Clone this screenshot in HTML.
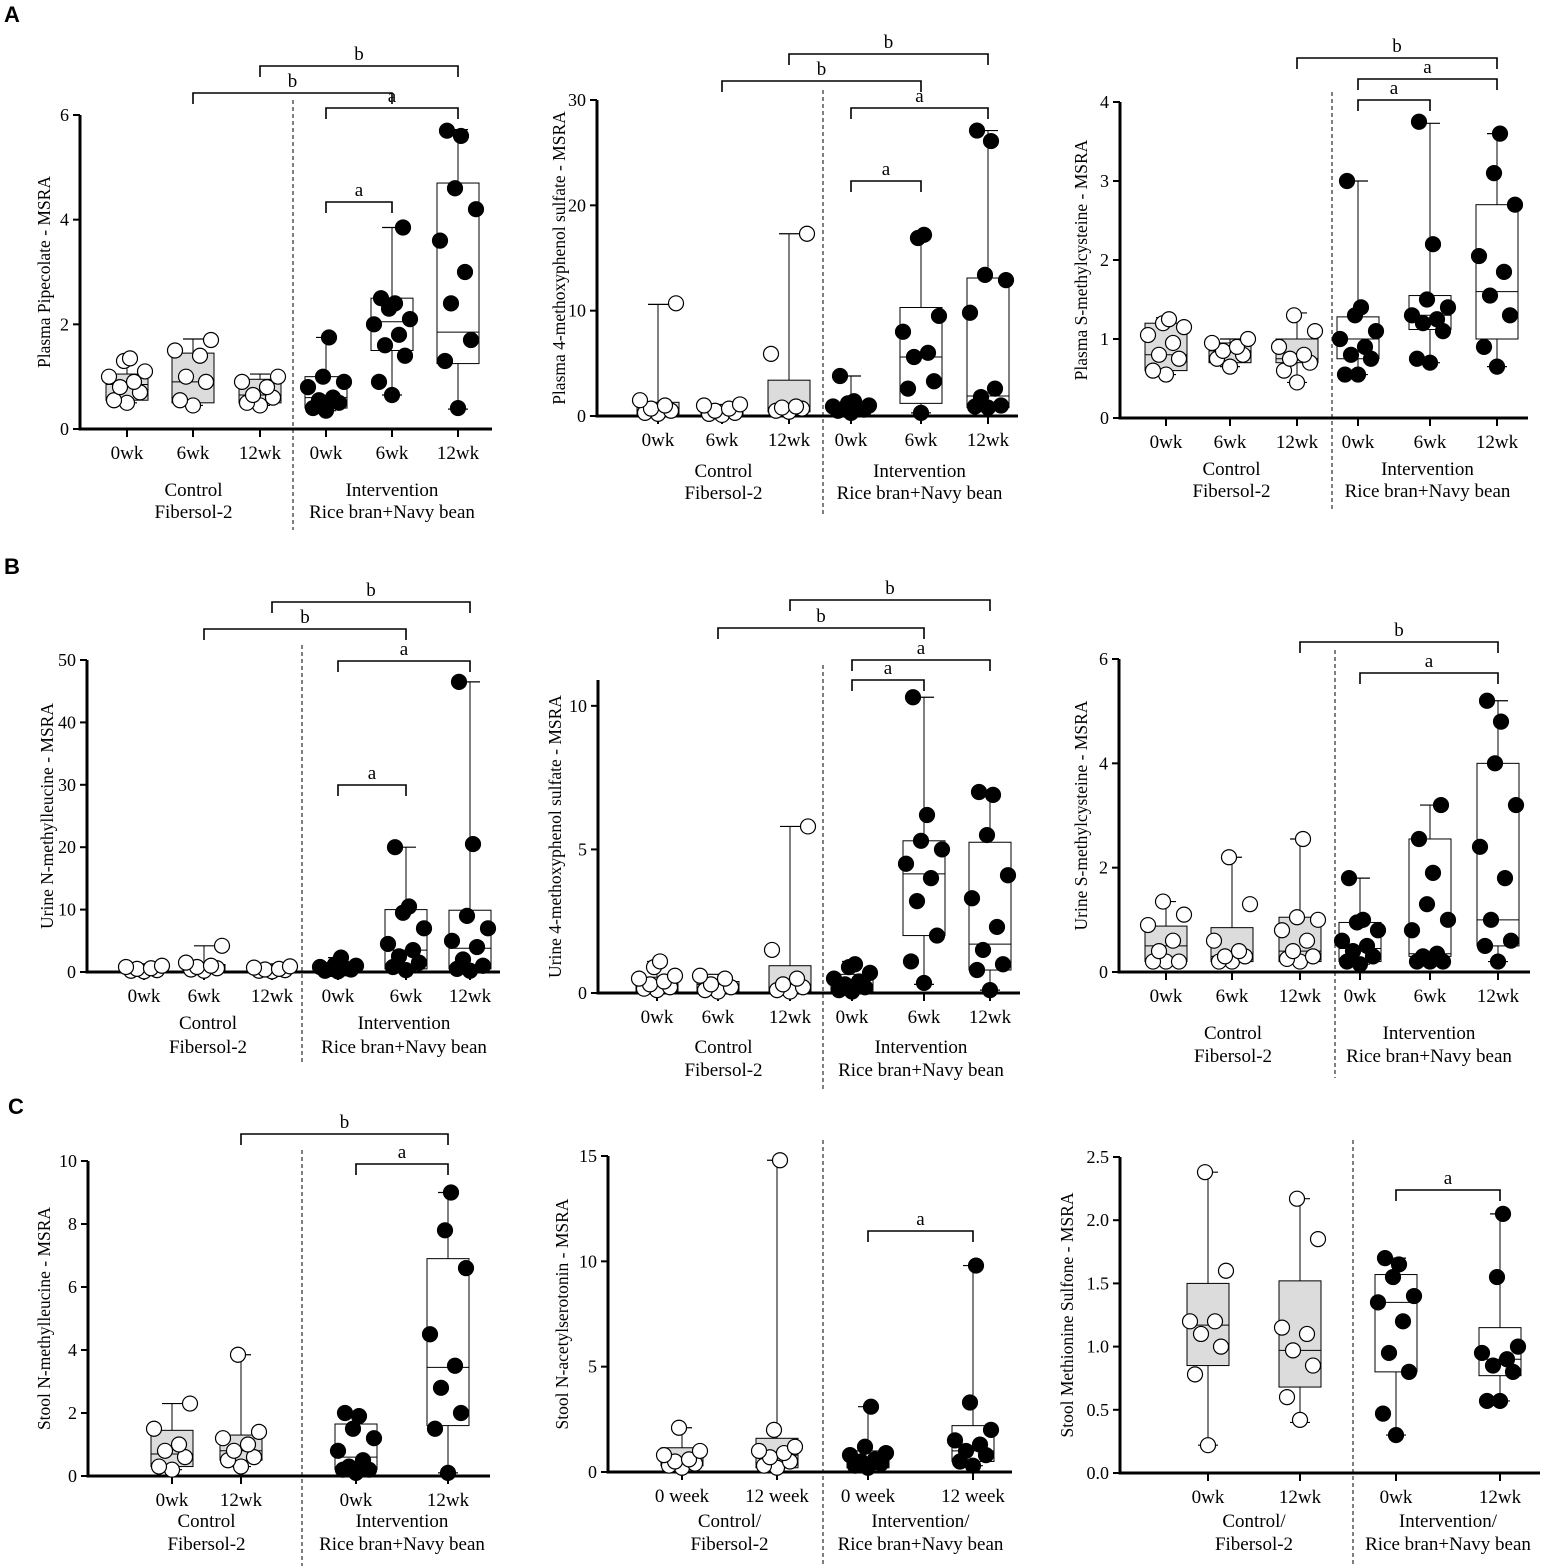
<!DOCTYPE html>
<html><head><meta charset="utf-8">
<style>
html,body{margin:0;padding:0;background:#fff;}
svg{display:block;font-family:"Liberation Serif",serif;}
</style></head>
<body>
<svg id="fig" width="1563" height="1566" viewBox="0 0 1563 1566" xmlns="http://www.w3.org/2000/svg">
<text x="4" y="22" font-family="Liberation Sans,sans-serif" font-weight="bold" font-size="22">A</text>
<text x="4" y="574" font-family="Liberation Sans,sans-serif" font-weight="bold" font-size="22">B</text>
<text x="8" y="1114" font-family="Liberation Sans,sans-serif" font-weight="bold" font-size="22">C</text>
</svg>
<script>
const a1Points=[[0.5,0.55,0.7,0.8,0.9,1.0,1.1,1.3,1.35],[0.45,0.55,0.9,1.0,1.4,1.5,1.7],[0.45,0.5,0.6,0.65,0.8,0.9,1.0],[0.35,0.4,0.5,0.55,0.6,0.8,0.9,1.0,1.75],[0.65,0.9,1.4,1.6,1.8,2.0,2.1,2.3,2.4,2.5,3.85],[0.4,1.3,1.7,2.4,3.0,3.6,4.2,4.6,5.6,5.7]];
const a1Boxes=[[0.5,0.55,0.85,1.05,1.35],[0.45,0.5,0.9,1.45,1.72],[0.45,0.5,0.65,0.95,1.05],[0.35,0.4,0.6,1.0,1.75],[0.65,1.5,2.05,2.5,3.85],[0.38,1.25,1.85,4.7,5.72]];
const a2Points=[[0.2,0.3,0.5,0.7,1.0,1.5,10.7],[0.1,0.2,0.3,0.5,0.7,1.0,1.1],[0.4,0.5,0.7,0.8,0.9,5.9,17.3],[0.3,0.5,0.6,0.7,0.8,0.9,1.0,1.2,1.4,3.8],[0.3,2.6,3.3,5.6,6.0,8.0,9.5,16.9,17.2],[0.8,0.9,1.0,1.8,2.6,9.8,12.9,13.4,26.1,27.1]];
const a2Boxes=[[0.2,0.2,0.4,1.3,10.6],[0.1,0.1,0.3,0.7,1.1],[0.4,0.4,0.8,3.4,17.3],[0.3,0.5,0.9,1.3,3.8],[0.3,1.2,5.6,10.3,17.2],[0.8,0.8,1.9,13.1,27.1]];
const a3Points=[[0.55,0.6,0.75,0.8,0.95,1.05,1.15,1.2,1.25],[0.65,0.75,0.8,0.85,0.9,0.95,1.0],[0.45,0.6,0.7,0.75,0.8,0.9,1.1,1.3],[0.55,0.55,0.75,0.8,0.9,1.0,1.1,1.3,1.4,3.0],[0.7,0.75,1.1,1.2,1.25,1.3,1.4,1.5,2.2,3.75],[0.65,0.9,1.3,1.55,1.85,2.05,2.7,3.1,3.6]];
const a3Boxes=[[0.55,0.6,0.8,1.2,1.27],[0.65,0.7,0.85,0.95,1.0],[0.45,0.7,0.75,1.0,1.33],[0.55,0.75,1.0,1.28,3.0],[0.7,1.12,1.3,1.55,3.73],[0.65,1.0,1.6,2.7,3.6]];
const b1Points=[[0.1,0.2,0.3,0.5,0.6,0.8,1.0],[0.2,0.4,0.6,0.8,1.0,1.5,4.2],[0.1,0.2,0.3,0.4,0.5,0.7,0.9],[0.1,0.2,0.4,0.5,0.6,0.8,1.0,1.2,2.3],[0.3,0.8,1.5,2.5,3.5,4.5,7,9.5,10.5,20],[0.2,0.5,1,2,4,5,7,9,20.5,46.5]];
const b1Boxes=[[0.1,0.1,0.3,0.6,1.0],[0.2,0.2,0.6,1.2,4.2],[0.1,0.1,0.3,0.7,0.9],[0.1,0.2,0.6,1.0,2.3],[0.3,0.5,3.5,10,20],[0.2,0.5,3.8,9.9,46.5]];
const b2Points=[[0.1,0.15,0.2,0.3,0.4,0.5,0.6,0.9,1.1],[0.05,0.1,0.2,0.3,0.5,0.6],[0.05,0.1,0.2,0.3,0.5,1.5,5.8],[0.05,0.1,0.2,0.3,0.4,0.5,0.7,0.9,1.0],[0.35,1.1,2.0,3.2,4.0,4.5,5.0,5.3,6.2,10.3],[0.1,0.8,1.0,1.5,2.3,3.3,4.1,5.5,6.9,7.0]];
const b2Boxes=[[0.05,0.05,0.3,0.55,1.1],[0.05,0.05,0.3,0.4,0.65],[0.05,0.05,0.2,0.95,5.8],[0.05,0.05,0.3,0.65,1.1],[0.3,2.0,4.15,5.3,10.3],[0.1,0.8,1.7,5.25,7.0]];
const b3Points=[[0.2,0.2,0.2,0.4,0.6,0.9,1.1,1.35],[0.2,0.2,0.3,0.3,0.4,0.6,1.3,2.2],[0.2,0.25,0.3,0.4,0.6,0.8,1.0,1.05,2.55],[0.15,0.2,0.3,0.4,0.5,0.6,0.8,0.95,1.0,1.8],[0.2,0.2,0.2,0.3,0.35,0.8,1.0,1.3,1.9,2.55,3.2],[0.2,0.5,0.6,1.0,1.8,2.4,3.2,4.0,4.8,5.2]];
const b3Boxes=[[0.2,0.2,0.5,0.88,1.35],[0.2,0.2,0.3,0.85,2.2],[0.2,0.2,0.4,1.05,2.55],[0.15,0.2,0.45,0.95,1.8],[0.2,0.3,0.35,2.55,3.2],[0.2,0.5,1.0,4.0,5.2]];
const c1Points=[[0.2,0.3,0.6,0.8,1.0,1.5,2.3],[0.3,0.5,0.6,0.8,1.0,1.2,1.4,3.85],[0.1,0.2,0.2,0.3,0.5,0.8,1.2,1.5,1.9,2.0],[0.1,1.5,2.0,2.8,3.5,4.5,6.6,7.8,9.0]];
const c1Boxes=[[0.2,0.3,0.7,1.45,2.3],[0.3,0.5,0.8,1.3,3.85],[0.1,0.2,0.6,1.65,2.0],[0.1,1.6,3.45,6.9,9.0]];
const c2Points=[[0.2,0.3,0.4,0.5,0.6,0.8,1.0,2.1],[0.2,0.3,0.5,0.7,0.9,1.0,1.2,2.0,14.8],[0.2,0.3,0.4,0.5,0.6,0.8,0.9,1.2,3.1],[0.3,0.5,0.8,1.0,1.3,1.5,2.0,3.3,9.8]];
const c2Boxes=[[0.2,0.3,0.7,1.15,2.1],[0.2,0.2,0.8,1.6,14.8],[0.2,0.2,0.5,1.0,3.1],[0.3,0.5,1.0,2.2,9.8]];
const c3Points=[[0.22,0.78,1.0,1.1,1.2,1.2,1.6,2.38],[0.42,0.6,0.85,0.97,1.1,1.15,1.85,2.17],[0.3,0.47,0.8,0.95,1.2,1.35,1.4,1.55,1.65,1.7],[0.57,0.57,0.8,0.85,0.9,0.95,1.0,1.55,2.05]];
const c3Boxes=[[0.22,0.85,1.17,1.5,2.38],[0.4,0.68,0.97,1.52,2.17],[0.3,0.8,1.35,1.57,1.7],[0.57,0.77,0.9,1.15,2.05]];
const a1Ticks=[0,2,4,6], a2Ticks=[0,10,20,30], a3Ticks=[0,1,2,3,4];
const b1Ticks=[0,10,20,30,40,50], b2Ticks=[0,5,10], b3Ticks=[0,2,4,6];
const c1Ticks=[0,2,4,6,8,10], c2Ticks=[0,5,10,15], c3Ticks=["0.0","0.5","1.0","1.5","2.0","2.5"];
const wk3=["0wk","6wk","12wk","0wk","6wk","12wk"], wk2=["0wk","12wk","0wk","12wk"], week2=["0 week","12 week","0 week","12 week"];

const NS="http://www.w3.org/2000/svg", svg=document.getElementById('fig');
function mk(tag,attrs,parent,txt){const e=document.createElementNS(NS,tag);for(const k in attrs)e.setAttribute(k,attrs[k]);if(txt!==undefined)e.textContent=txt;(parent||svg).appendChild(e);return e;}

const panels=[
 {id:'a1',ax:80,y0:429,yTop:115,ymax:6,ticks:a1Ticks,pts:a1Points,box:a1Boxes,cats:wk3,gx:[127,193,260,326,392,458],dash:293,xEnd:492,nCtrl:3,
  ylab:'Plasma Pipecolate - MSRA',ylx:45,g1:['Control','Fibersol-2'],g2:['Intervention','Rice bran+Navy bean'],gy:[489,511],dashTop:100,dashBot:530,
  br:[[2,5,66,'b'],[1,4,93,'b'],[3,5,108,'a'],[3,4,202,'a']]},
 {id:'a2',ax:597,y0:416,yTop:100,ymax:30,ticks:a2Ticks,pts:a2Points,box:a2Boxes,cats:wk3,gx:[658,722,789,851,921,988],dash:823,xEnd:1018,nCtrl:3,
  ylab:'Plasma 4-methoxyphenol sulfate - MSRA',ylx:560,g1:['Control','Fibersol-2'],g2:['Intervention','Rice bran+Navy bean'],gy:[470,492],dashTop:90,dashBot:515,
  br:[[2,5,54,'b'],[1,4,81,'b'],[3,5,108,'a'],[3,4,181,'a']]},
 {id:'a3',ax:1120,y0:418,yTop:102,ymax:4,ticks:a3Ticks,pts:a3Points,box:a3Boxes,cats:wk3,gx:[1166,1230,1297,1358,1430,1497],dash:1332,xEnd:1528,nCtrl:3,
  ylab:'Plasma S-methylcysteine - MSRA',ylx:1082,g1:['Control','Fibersol-2'],g2:['Intervention','Rice bran+Navy bean'],gy:[468,490],dashTop:92,dashBot:512,
  br:[[2,5,58,'b'],[3,5,79,'a'],[3,4,100,'a']]},
 {id:'b1',ax:87,y0:972,yTop:660,ymax:50,ticks:b1Ticks,pts:b1Points,box:b1Boxes,cats:wk3,gx:[144,204,272,338,406,470],dash:302,xEnd:500,nCtrl:3,
  ylab:'Urine N-methylleucine - MSRA',ylx:48,g1:['Control','Fibersol-2'],g2:['Intervention','Rice bran+Navy bean'],gy:[1022,1046],dashTop:645,dashBot:1065,
  br:[[2,5,602,'b'],[1,4,629,'b'],[3,5,661,'a'],[3,4,785,'a']]},
 {id:'b2',ax:598,y0:993,yTop:680,ymax:10.9,ticks:b2Ticks,pts:b2Points,box:b2Boxes,cats:wk3,gx:[657,718,790,852,924,990],dash:823,xEnd:1020,nCtrl:3,
  ylab:'Urine 4-methoxyphenol sulfate - MSRA',ylx:556,g1:['Control','Fibersol-2'],g2:['Intervention','Rice bran+Navy bean'],gy:[1046,1069],dashTop:665,dashBot:1090,
  br:[[2,5,600,'b'],[1,4,628,'b'],[3,5,660,'a'],[3,4,680,'a']]},
 {id:'b3',ax:1119,y0:972,yTop:659,ymax:6,ticks:b3Ticks,pts:b3Points,box:b3Boxes,cats:wk3,gx:[1166,1232,1300,1360,1430,1498],dash:1335,xEnd:1530,nCtrl:3,
  ylab:'Urine S-methylcysteine - MSRA',ylx:1082,g1:['Control','Fibersol-2'],g2:['Intervention','Rice bran+Navy bean'],gy:[1032,1055],dashTop:650,dashBot:1078,
  br:[[2,5,642,'b'],[3,5,673,'a']]},
 {id:'c1',ax:88,y0:1476,yTop:1161,ymax:10,ticks:c1Ticks,pts:c1Points,box:c1Boxes,cats:wk2,gx:[172,241,356,448],dash:302,xEnd:490,nCtrl:2,
  ylab:'Stool N-methylleucine - MSRA',ylx:45,g1:['Control','Fibersol-2'],g2:['Intervention','Rice bran+Navy bean'],gy:[1520,1543],dashTop:1150,dashBot:1566,
  br:[[1,3,1134,'b'],[2,3,1164,'a']]},
 {id:'c2',ax:608,y0:1472,yTop:1156,ymax:15,ticks:c2Ticks,pts:c2Points,box:c2Boxes,cats:week2,gx:[682,777,868,973],dash:823,xEnd:1012,nCtrl:2,
  ylab:'Stool N-acetylserotonin - MSRA',ylx:563,g1:['Control/','Fibersol-2'],g2:['Intervention/','Rice bran+Navy bean'],gy:[1520,1543],dashTop:1140,dashBot:1566,
  br:[[2,3,1231,'a']]},
 {id:'c3',ax:1120,y0:1473,yTop:1157,ymax:2.5,ticks:c3Ticks,pts:c3Points,box:c3Boxes,cats:wk2,gx:[1208,1300,1396,1500],dash:1353,xEnd:1540,nCtrl:2,
  ylab:'Stool Methionine Sulfone - MSRA',ylx:1068,g1:['Control/','Fibersol-2'],g2:['Intervention/','Rice bran+Navy bean'],gy:[1520,1543],dashTop:1140,dashBot:1566,
  br:[[2,3,1190,'a']]}
];

const offs=[0,-13,13,-7,7,-18,18,-3,3,-11,11];
panels.forEach(p=>{
  const g=mk('g',{});
  
  
  const Y=v=>p.y0-(parseFloat(v)/p.ymax)*(p.y0-p.yTop);
  const d=mk('line',{x1:p.dash,x2:p.dash,y1:p.dashTop,y2:p.dashBot,stroke:'#000','stroke-width':1,'stroke-dasharray':'4,3'},g);
  
  
  const ya=mk('line',{x1:p.ax,x2:p.ax,y1:p.yTop,y2:p.y0+1.5,stroke:'#000','stroke-width':3},g);
  
  
  p.ticks.forEach(t=>{
    const yy=Y(t);
    mk('line',{x1:p.ax-7,x2:p.ax,y1:yy,y2:yy,stroke:'#000','stroke-width':2},g);
    const tl=mk('text',{x:p.ax-11,y:yy+6,'text-anchor':'end','font-size':18},g,String(t));
    
    
  });
  const yl=mk('text',{x:p.ylx,y:(p.y0+p.yTop)/2,'text-anchor':'middle','font-size':17.5,transform:`rotate(-90 ${p.ylx} ${(p.y0+p.yTop)/2})`,dy:5},g,p.ylab);
  
  
  const xa=mk('line',{x1:p.ax-1.5,x2:p.xEnd,y1:p.y0,y2:p.y0,stroke:'#000','stroke-width':3},g);
  
  
  p.gx.forEach((x,i)=>{
    mk('line',{x1:x,x2:x,y1:p.y0,y2:p.y0+8,stroke:'#000','stroke-width':2},g);
    const cl=mk('text',{x:x,y:p.y0+30,'text-anchor':'middle','font-size':19},g,p.cats[i]);
    
    
  });
  const cx1=(p.gx[0]+p.gx[p.nCtrl-1])/2, cx2=(p.gx[p.nCtrl]+p.gx[p.gx.length-1])/2;
  [[p.g1,cx1,'control-group-label'],[p.g2,cx2,'intervention-group-label']].forEach(([lines,cx,nm])=>{
    lines.forEach((s,j)=>{
      const t=mk('text',{x:cx,y:p.gy[j]+7,'text-anchor':'middle','font-size':19},g,s);
      
      
    });
  });
  p.box.forEach((b,i)=>{
    const x=p.gx[i], ctrl=i<p.nCtrl, w=21;
    const bg=mk('g',{},g);
    
    
    mk('line',{x1:x,x2:x,y1:Y(b[0]),y2:Y(b[4]),stroke:'#000','stroke-width':1},bg);
    mk('line',{x1:x-10,x2:x+10,y1:Y(b[0]),y2:Y(b[0]),stroke:'#000','stroke-width':1.2},bg);
    mk('line',{x1:x-10,x2:x+10,y1:Y(b[4]),y2:Y(b[4]),stroke:'#000','stroke-width':1.2},bg);
    mk('rect',{x:x-w,y:Y(b[3]),width:2*w,height:Math.max(0.5,Y(b[1])-Y(b[3])),fill:ctrl?'#dcdcdc':'#fff',stroke:'#000','stroke-width':1},bg);
    mk('line',{x1:x-w,x2:x+w,y1:Y(b[2]),y2:Y(b[2]),stroke:'#000','stroke-width':1},bg);
    p.pts[i].forEach((v,k)=>{
      const c=mk('circle',{cx:x+offs[k%offs.length],cy:Y(v),r:7.5,fill:ctrl?'#fff':'#000',stroke:'#000','stroke-width':1.2},bg);
      
      
    });
  });
  p.br.forEach(([a,b,yy,lab])=>{
    const x1=p.gx[a],x2=p.gx[b];
    const bk=mk('path',{d:`M${x1} ${yy+11}V${yy}H${x2}V${yy+11}`,fill:'none',stroke:'#000','stroke-width':1.6},g);
    
    
    const t=mk('text',{x:(x1+x2)/2,y:yy-6,'text-anchor':'middle','font-size':19},g,lab);
    
    
  });
});
</script>
</body></html>
